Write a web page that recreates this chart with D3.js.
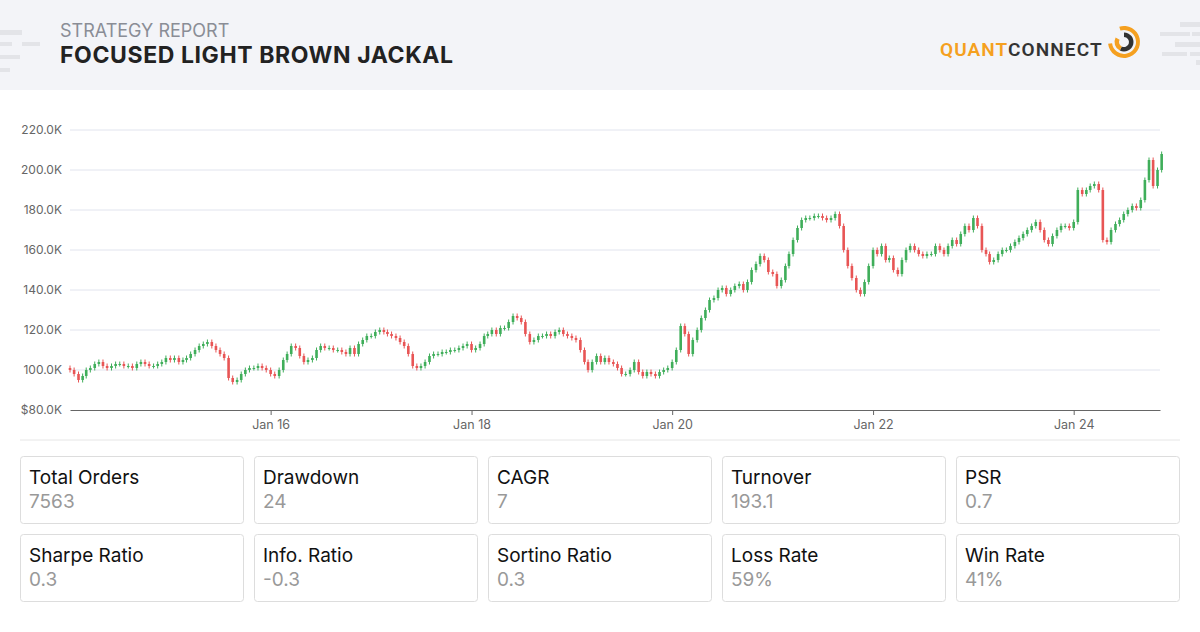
<!DOCTYPE html>
<html><head><meta charset="utf-8">
<script src="https://cdn.jsdelivr.net/npm/d3@7"></script>
<style>body{margin:0;background:#fff;font-family:Inter,"Noto Sans",sans-serif}</style>
</head><body><svg id="c" width="1200" height="632"></svg>
<script>
const closes = [
100,98,95,97,100,101,103,104,102,101,102,103,103,102,102,101,103,104,103,102,102,103,104,106,
105,106,104,105,106,108,110,112,113,114,112,110,108,106,96,94,95,98,100,101,101,102,101,100,
98,97,100,105,108,112,111,107,104,105,106,110,112,111,111,110,110,109,108,111,108,113,115,117,
117,119,120,119,118,117,116,114,112,108,102,101,102,104,107,108,108,109,109,110,110,111,112,113,
110,111,113,117,118,120,118,121,121,124,127,126,124,118,114,115,117,117,118,117,119,120,118,117,
116,115,110,104,100,104,107,104,106,104,103,101,98,98,100,104,99,97,99,98,97,99,100,101,
104,110,122,118,108,115,120,126,130,135,136,140,141,138,140,142,143,140,144,150,153,157,155,149,
148,142,145,152,158,165,171,175,176,176,177,177,176,175,176,178,172,160,152,146,140,138,144,152,
160,158,162,155,156,150,148,155,160,162,160,158,157,158,158,162,160,158,162,165,163,168,172,170,
176,172,160,158,154,155,158,160,160,162,164,166,168,170,172,174,170,165,163,167,170,172,172,171,
174,190,188,190,192,193,190,165,164,170,173,175,178,180,182,181,185,195,205,192,200,208];
const startOpen = 101;
const yTicks = [80,100,120,140,160,180,200,220];
const xTickYears = [2016,2018,2020,2022,2024];
const statLabels = [["Total Orders","Drawdown","CAGR","Turnover","PSR"],["Sharpe Ratio","Info. Ratio","Sortino Ratio","Loss Rate","Win Rate"]];
const statValues = [["7563","24","7","193.1","0.7"],["0.3","-0.3","0.3","59%","41%"]];

const svg = d3.select("#c");
svg.append("rect").attr("width",1200).attr("height",90).attr("fill","#f3f4f8");
[[0,30,22,5],[0,42,12,4],[22,42,18,4],[0,55,20,4],[0,68,10,4]].forEach(b=>svg.append("rect").attr("x",b[0]).attr("y",b[1]).attr("width",b[2]).attr("height",b[3]).attr("fill","#e3e4e8"));
[[1180,22,20,5],[1160,32,30,4],[1192,32,8,4],[1175,42,25,5],[1162,52,25,4],[1190,52,10,4],[1196,60,4,5]].forEach(b=>svg.append("rect").attr("x",b[0]).attr("y",b[1]).attr("width",b[2]).attr("height",b[3]).attr("fill","#e3e4e8"));
svg.append("text").attr("x",60).attr("y",37).attr("font-size",18).attr("fill","#8a8d96").text("STRATEGY REPORT");
svg.append("text").attr("x",60).attr("y",63).attr("font-size",23).attr("font-weight",700).attr("letter-spacing",0.6).attr("fill","#222").text("FOCUSED LIGHT BROWN JACKAL");
const lg = svg.append("text").attr("x",940).attr("y",56).attr("font-size",19).attr("font-weight",600).attr("letter-spacing",1.4).attr("font-family","Roboto,sans-serif")
  .attr("textLength",163).attr("lengthAdjust","spacing");
lg.append("tspan").attr("fill","#f5a020").text("QUANT");
lg.append("tspan").attr("fill","#333").text("CONNECT");
const arc = d3.arc();
const lgG = svg.append("g").attr("transform","translate(1124,42)");
lgG.append("path").attr("d",arc({innerRadius:12,outerRadius:16,startAngle:-0.3,endAngle:4.6})).attr("fill","#f5a020");
lgG.append("path").attr("d",arc({innerRadius:5,outerRadius:9.5,startAngle:0,endAngle:3.6})).attr("fill","#333");
lgG.append("path").attr("d",arc({innerRadius:5,outerRadius:9.5,startAngle:3.6,endAngle:5.2})).attr("fill","#f5a020");

const x0 = new Date(2014,0,1);
const dates = closes.map((_,i)=>new Date(2014,Math.floor(i/2),i%2?16:1));
const x = d3.scaleTime().domain([x0,new Date(2024,10,10)]).range([70,1160]);
const y = d3.scaleLinear().domain([80,220]).range([410,130]);
const g = svg.append("g");
g.selectAll(".gl").data(yTicks.slice(1)).join("line").attr("x1",70).attr("x2",1160).attr("y1",d=>y(d)).attr("y2",d=>y(d)).attr("stroke","#e1e4ee");
g.selectAll(".yl").data(yTicks).join("text").attr("x",62).attr("y",d=>y(d)+4).attr("text-anchor","end").attr("font-size",12).attr("fill","#666")
  .text(d=>(d===80?"$":"")+d.toFixed(1)+"K");
const xa = svg.append("g").attr("transform","translate(0,410)").call(d3.axisBottom(x).tickValues(xTickYears.map(yy=>new Date(yy,0,1))).tickFormat(d3.timeFormat("Jan %y")).tickSize(5).tickSizeOuter(0));
xa.select(".domain").attr("stroke","#666");
xa.selectAll(".tick line").attr("stroke","#666");
xa.selectAll("text").attr("font-size",12.5).attr("fill","#666").attr("font-family","Inter,sans-serif").attr("dy","0.9em");
const cd = closes.map((c,i)=>({d:dates[i],o:i?closes[i-1]:startOpen,c}));
const cg = g.selectAll(".cd").data(cd).join("g");
const col = d=>d.c>=d.o?"#3fae5a":"#e85555";
cg.append("line").attr("x1",d=>x(d.d)).attr("x2",d=>x(d.d)).attr("y1",d=>y(Math.max(d.o,d.c))-2.5).attr("y2",d=>y(Math.min(d.o,d.c))+2.5).attr("stroke",col).attr("stroke-width",1);
cg.append("rect").attr("x",d=>x(d.d)-1.3).attr("width",2.6).attr("y",d=>y(Math.max(d.o,d.c))).attr("height",d=>Math.max(1,Math.abs(y(d.o)-y(d.c)))).attr("fill",col);

svg.append("line").attr("x1",20).attr("x2",1180).attr("y1",440).attr("y2",440).attr("stroke","#e6e6e6");
statLabels.forEach((row,r)=>row.forEach((lab,k)=>{
  const bx=20+k*234, by=456+r*78;
  svg.append("rect").attr("x",bx+0.5).attr("y",by+0.5).attr("width",223).attr("height",67).attr("rx",3).attr("fill","#fff").attr("stroke","#ddd");
  svg.append("text").attr("x",bx+9).attr("y",by+28).attr("font-size",19).attr("fill","#111").text(lab);
  svg.append("text").attr("x",bx+9).attr("y",by+52).attr("font-size",19).attr("fill","#999").text(statValues[r][k]);
}));
</script></body></html>
